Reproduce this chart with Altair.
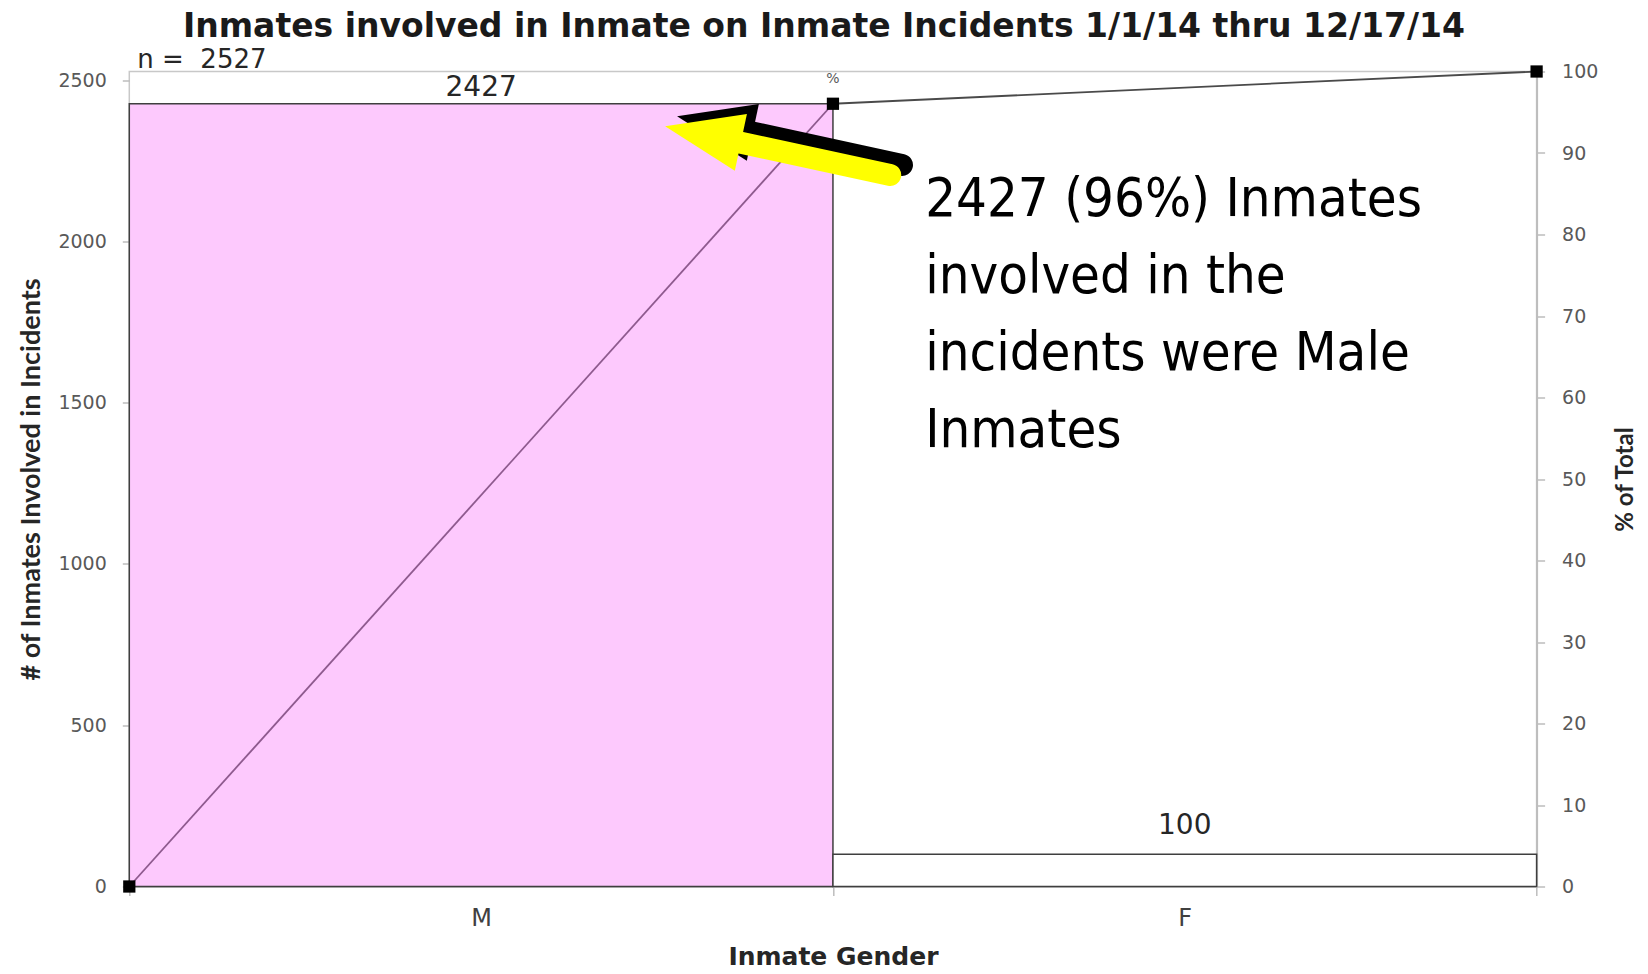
import altair as alt
import pandas as pd

# ---------------- data ----------------
categories = ["M", "F"]
counts = [2427, 100]
n_total = 2527
count_ticks = [0, 500, 1000, 1500, 2000, 2500]
pct_ticks = [0, 10, 20, 30, 40, 50, 60, 70, 80, 90, 100]

title_text = "Inmates involved in Inmate on Inmate Incidents 1/1/14 thru 12/17/14"
note_lines = ["2427 (96%) Inmates", "involved in the", "incidents were Male", "Inmates"]
note_y = [2079, 1841, 1602, 1363]      # baselines, in count units
note_x = [1.131, 1.131, 1.131, 1.131]  # in category-slot units (0..2)

# arrow anchors (category-slot units, count units): head centre -> tail
yellow_x = [0.8153, 1.0814]
yellow_y = [2332, 2206]
shadow_x = [0.8323, 1.0981]
shadow_y = [2363, 2237]

# ---------------- tables ----------------
bars = pd.DataFrame({
    "cat": categories,
    "x0": list(range(len(categories))),
    "x1": [i + 1 for i in range(len(categories))],
    "count": counts,
})
bars["mid"] = (bars["x0"] + bars["x1"]) / 2

cum = [0.0]
running = 0
for c in counts:
    running += c
    cum.append(running / n_total * 100)
pts = pd.DataFrame({"pos": list(range(len(cum))), "cum": cum})
segs = pd.DataFrame({
    "seg": list(range(len(cum) - 1)),
    "x0": list(range(len(cum) - 1)),
    "x1": list(range(1, len(cum))),
    "p0": cum[:-1],
    "p1": cum[1:],
})
notes = pd.DataFrame({"t": note_lines, "x": note_x, "y": note_y})
arrows = pd.DataFrame({
    "kind": ["shadow", "yellow"],
    "hx": [shadow_x[0], yellow_x[0]],
    "hy": [shadow_y[0], yellow_y[0]],
    "tx": [shadow_x[1], yellow_x[1]],
    "ty": [shadow_y[1], yellow_y[1]],
})
nlab = pd.DataFrame({"t": ["n = \u00a0" + str(n_total)], "x": [0], "y": [n_total]})

# ---------------- scales / axes ----------------
W, H = 1407.3, 815
xs = alt.Scale(domain=[0, len(categories)], nice=False, zero=False)
ys = alt.Scale(domain=[0, n_total], nice=False, zero=True)
yrs = alt.Scale(domain=[0, 100], nice=False, zero=True)

x_axis = alt.Axis(
    values=[0, 0.5, 1, 1.5, 2],
    labelExpr="datum.value == 0.5 ? 'M' : (datum.value == 1.5 ? 'F' : '')",
    tickOpacity={"condition": {"test": "datum.value == 0.5 || datum.value == 1.5", "value": 0}, "value": 1},
    grid=False, domainColor="#C8C8C8", domainWidth=2,
    tickColor="#BDBDBD", tickSize=9, tickWidth=1.5,
    labelFont="DejaVu Sans", labelFontSize=24, labelColor="#404040", labelPadding=11,
    labelFlush=False, labelOverlap=False,
    title="Inmate Gender", titleFont="DejaVu Sans", titleFontWeight="bold",
    titleFontSize=25, titleColor="#262626", titlePadding=14,
)
y_axis = alt.Axis(
    orient="left", values=count_ticks, format="d", grid=False, domain=False,
    tickColor="#BDBDBD", tickSize=7, tickWidth=1.5,
    labelFont="DejaVu Sans", labelFontSize=19, labelColor="#595959", labelPadding=16,
    title="# of Inmates Involved in Incidents", titleFont="Lato", titleFontWeight="bold",
    titleFontSize=27, titleColor="#262626", titlePadding=12,
)
yr_axis = alt.Axis(
    orient="right", values=pct_ticks, format="d", grid=False,
    domainColor="#BDBDBD", domainWidth=2,
    tickColor="#BDBDBD", tickSize=8, tickWidth=1.5,
    labelFont="DejaVu Sans", labelFontSize=19, labelColor="#595959", labelPadding=17,
    title="% of Total", titleAngle=270, titleBaseline="top", titleFont="Lato", titleFontWeight="bold",
    titleFontSize=24, titleColor="#262626", titlePadding=16,
)


def X(field):
    return alt.X(field, scale=xs, axis=x_axis)


# ---------------- bars & labels (count scale) ----------------
bar_layer = alt.Chart(bars).mark_rect(stroke="#3F3F3F", strokeWidth=1.5).encode(
    x=X("x0:Q"),
    x2="x1:Q",
    y=alt.Y("count:Q", scale=ys, axis=y_axis),
    y2=alt.datum(0),
    color=alt.Color("cat:N", scale=alt.Scale(domain=categories, range=["#FDC9FD", "#FFFFFF"]), legend=None),
)
lab_font = dict(font="DejaVu Sans", fontSize=28, color="#262626", baseline="middle", align="center")
lab_m = alt.Chart(bars).transform_filter(alt.datum.cat == "M").mark_text(dy=-16, **lab_font).encode(
    x=X("mid:Q"),
    y=alt.Y("count:Q", scale=ys, axis=None),
    text="count:Q",
)
lab_f = alt.Chart(bars).transform_filter(alt.datum.cat == "F").mark_text(dy=-28, **lab_font).encode(
    x=X("mid:Q"),
    y=alt.Y("count:Q", scale=ys, axis=None),
    text="count:Q",
)
n_layer = alt.Chart(nlab).mark_text(
    align="left", baseline="middle", dx=8, dy=-12,
    font="DejaVu Sans", fontSize=26, color="#262626",
).encode(
    x=X("x:Q"),
    y=alt.Y("y:Q", scale=ys, axis=None),
    text="t:N",
)

# ---------------- cumulative percent ----------------
seg1 = alt.Chart(segs).transform_filter(alt.datum.seg == 0).mark_rule(color="#8E5A8E", strokeWidth=1.8).encode(
    x=X("x0:Q"),
    x2="x1:Q",
    y=alt.Y("p0:Q", scale=yrs, axis=yr_axis),
    y2="p1:Q",
)
seg2 = alt.Chart(segs).transform_filter(alt.datum.seg == 1).mark_rule(color="#4A4A4A", strokeWidth=1.8).encode(
    x=X("x0:Q"),
    x2="x1:Q",
    y=alt.Y("p0:Q", scale=yrs, axis=None),
    y2="p1:Q",
)
marks = alt.Chart(pts).mark_square(size=150, color="black", opacity=1).encode(
    x=X("pos:Q"),
    y=alt.Y("cum:Q", scale=yrs, axis=None),
)
pct_lab = alt.Chart(pts).transform_filter(alt.datum.pos == 1).mark_text(
    text="%", dy=-25, font="DejaVu Sans", fontSize=14, color="#595959",
).encode(
    x=X("pos:Q"),
    y=alt.Y("cum:Q", scale=yrs, axis=None),
)

# ---------------- annotation ----------------
head_path = "M -1 0 L 1 -0.75 L 1 0.75 Z"


def arrow_parts(kind, colour):
    src = alt.Chart(arrows).transform_filter(alt.datum.kind == kind)
    shaft = src.mark_rule(color=colour, strokeWidth=22, strokeCap="round").encode(
        x=X("hx:Q"),
        x2="tx:Q",
        y=alt.Y("hy:Q", scale=ys, axis=None),
        y2="ty:Q",
    )
    head = src.mark_point(shape=head_path, size=6000, angle=12, filled=True,
                          fill=colour, strokeWidth=0, opacity=1).encode(
        x=X("hx:Q"),
        y=alt.Y("hy:Q", scale=ys, axis=None),
    )
    return [shaft, head]


note_layer = alt.Chart(notes).mark_text(
    align="left", baseline="alphabetic",
    font="DejaVu Sans Condensed, DejaVu Sans, sans-serif",
    fontSize=54, color="#000000",
).encode(
    x=X("x:Q"),
    y=alt.Y("y:Q", scale=ys, axis=None),
    text="t:N",
)

layers = [bar_layer, lab_m, lab_f, n_layer, seg1, seg2, marks, pct_lab,
          *arrow_parts("shadow", "#000000"), *arrow_parts("yellow", "#FFFF00"), note_layer]

chart = alt.layer(*layers).resolve_scale(y="independent").properties(
    width=W, height=H,
    title=alt.TitleParams(
        text=title_text, font="DejaVu Sans", fontWeight="bold", fontSize=33,
        color="#1A1A1A", anchor="middle", frame="group", offset=3, dx=-9,
    ),
    padding={"left": 129.3, "top": 71.5, "right": 111.4, "bottom": 87.5},
    autosize=alt.AutoSizeParams(type="none"),
).configure_view(stroke="#C8C8C8", strokeWidth=1.5)

chart.save("out.html", embed_options={"renderer": "svg", "actions": False})
